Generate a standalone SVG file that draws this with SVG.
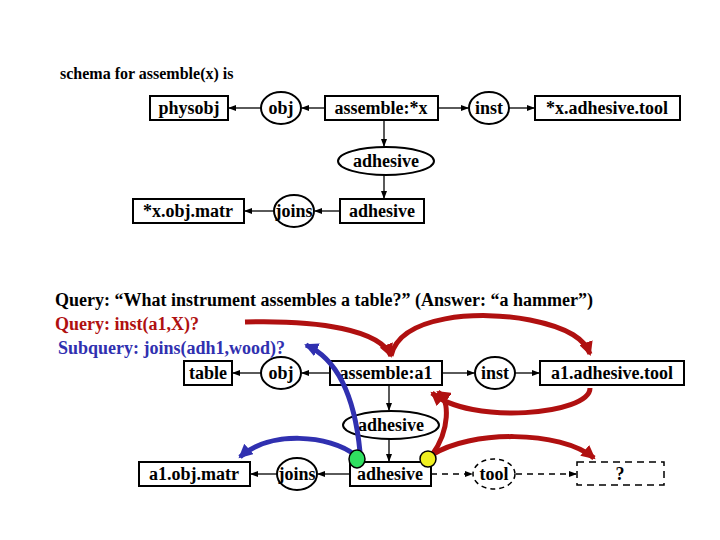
<svg xmlns="http://www.w3.org/2000/svg" width="720" height="540" viewBox="0 0 720 540">
<style>
text{font-family:"Liberation Serif","Times New Roman","DejaVu Serif",serif;font-weight:bold;font-size:18px;fill:#000}
.n{text-anchor:middle}
.b{fill:#fff;stroke:#000;stroke-width:2}
.l{stroke:#000;stroke-width:1.3;fill:none;marker-end:url(#a)}
.d{stroke:#000;stroke-width:1.5;fill:none;stroke-dasharray:6,5;marker-end:url(#a)}
.r{stroke:#b01010;stroke-width:5;fill:none;marker-end:url(#ra)}
.u{stroke:#3030b0;stroke-width:5;fill:none;marker-end:url(#ba)}
</style>
<defs>
<marker id="a" markerWidth="8" markerHeight="8" refX="7" refY="4" orient="auto" markerUnits="userSpaceOnUse"><path d="M0,1 L8,4 L0,7z"/></marker>
<marker id="ra" markerWidth="16" markerHeight="14" refX="12" refY="7" orient="auto" markerUnits="userSpaceOnUse"><path d="M0,0 L14,7 L0,14z" fill="#b01010"/></marker>
<marker id="ba" markerWidth="16" markerHeight="14" refX="12" refY="7" orient="auto" markerUnits="userSpaceOnUse"><path d="M0,0 L14,7 L0,14z" fill="#3030b0"/></marker>
</defs>
<rect width="720" height="540" fill="#fff"/>
<text x="60" y="79" style="font-size:16px">schema for assemble(x) is</text>
<g id="connectors">
<line class="l" x1="325" y1="108" x2="302" y2="108"/>
<line class="l" x1="261" y1="108" x2="229" y2="108"/>
<line class="l" x1="438" y1="108" x2="468" y2="108"/>
<line class="l" x1="509" y1="108" x2="534" y2="108"/>
<line class="l" x1="384" y1="120" x2="384" y2="146"/>
<line class="l" x1="384" y1="175" x2="384" y2="198"/>
<line class="l" x1="340" y1="211" x2="315" y2="211"/>
<line class="l" x1="274" y1="211" x2="245" y2="211"/>
<line class="l" x1="330" y1="373" x2="302" y2="373"/>
<line class="l" x1="261" y1="373" x2="233" y2="373"/>
<line class="l" x1="442" y1="373" x2="474" y2="373"/>
<line class="l" x1="515" y1="373" x2="539" y2="373"/>
<line class="l" x1="389" y1="385" x2="389" y2="410"/>
<line class="l" x1="389" y1="439" x2="389" y2="461"/>
<line class="l" x1="350" y1="474" x2="318" y2="474"/>
<line class="l" x1="277" y1="474" x2="251" y2="474"/>
<line class="d" x1="431" y1="474" x2="472" y2="474"/>
<line class="d" x1="516" y1="474" x2="576" y2="474"/>
</g>
<g id="physobj"><rect class="b" x="150" y="96" width="78" height="24"/><text class="n" x="189" y="114">physobj</text></g>
<g id="obj1"><ellipse class="b" cx="281" cy="108" rx="20" ry="16"/><text class="n" x="281" y="114">obj</text></g>
<g id="assemble1"><rect class="b" x="325" y="96" width="113" height="24"/><text class="n" x="381" y="114">assemble:*x</text></g>
<g id="inst1"><ellipse class="b" cx="489" cy="108" rx="20" ry="16"/><text class="n" x="489" y="114">inst</text></g>
<g id="tool1"><rect class="b" x="535" y="96" width="145" height="24"/><text class="n" x="607" y="114">*x.adhesive.tool</text></g>
<g id="adhE1"><ellipse class="b" cx="386" cy="161" rx="48" ry="14"/><text class="n" x="386" y="167">adhesive</text></g>
<g id="adhB1"><rect class="b" x="340" y="199" width="84" height="24"/><text class="n" x="382" y="217">adhesive</text></g>
<g id="joins1"><ellipse class="b" cx="294" cy="211" rx="20" ry="16"/><text class="n" x="294" y="217">joins</text></g>
<g id="matr1"><rect class="b" x="133" y="199" width="111" height="24"/><text class="n" x="188" y="217">*x.obj.matr</text></g>
<text x="55" y="306">Query: “What instrument assembles a table?” (Answer: “a hammer”)</text>
<text x="55" y="330" style="fill:#b01010">Query: inst(a1,X)?</text>
<text x="58" y="354" style="fill:#3030b0">Subquery: joins(adh1,wood)?</text>
<g id="table"><rect class="b" x="184" y="361" width="48" height="24"/><text class="n" x="208" y="379">table</text></g>
<g id="obj2"><ellipse class="b" cx="281" cy="373" rx="20" ry="16"/><text class="n" x="281" y="379">obj</text></g>
<g id="assemble2"><rect class="b" x="330" y="361" width="112" height="24"/><text class="n" x="386" y="379">assemble:a1</text></g>
<g id="inst2"><ellipse class="b" cx="495" cy="373" rx="20" ry="16"/><text class="n" x="495" y="379">inst</text></g>
<g id="tool2"><rect class="b" x="540" y="361" width="144" height="24"/><text class="n" x="612" y="379">a1.adhesive.tool</text></g>
<g id="adhE2"><ellipse class="b" cx="391" cy="425" rx="48" ry="14"/><text class="n" x="391" y="431">adhesive</text></g>
<g id="adhB2"><rect class="b" x="350" y="462" width="81" height="24"/><text class="n" x="390" y="480">adhesive</text></g>
<g id="joins2"><ellipse class="b" cx="297" cy="474" rx="20" ry="16"/><text class="n" x="297" y="480">joins</text></g>
<g id="matr2"><rect class="b" x="139" y="462" width="111" height="24"/><text class="n" x="194" y="480">a1.obj.matr</text></g>
<g id="toolq"><ellipse cx="494" cy="474" rx="21" ry="15" fill="#fff" stroke="#000" stroke-width="1.5" stroke-dasharray="5,4"/><text class="n" x="494" y="480">tool</text></g>
<g id="unknown"><rect x="577" y="462" width="87" height="23" fill="#fff" stroke="#000" stroke-width="1.5" stroke-dasharray="7,5"/><text class="n" x="620" y="480">?</text></g>
<g id="highlights">
<path class="r" d="M245,322 C320,320 380,330 391,356"/>
<path class="r" d="M391,356 C400,315 480,310 530,320 C570,328 585,340 590,354"/>
<path class="r" d="M590,388 C590,415 470,425 432,393"/>
<path class="r" d="M432,455 C450,430 450,400 438,392"/>
<path class="r" d="M432,455 C470,430 560,430 594,458"/>
<path class="u" d="M360,452 C355,400 340,360 306,345"/>
<path class="u" d="M355,455 C330,435 270,430 240,457"/>
<ellipse cx="357" cy="459" rx="8" ry="9" fill="#30e060" stroke="#000" stroke-width="1.5"/>
<ellipse cx="428" cy="459" rx="8" ry="8" fill="#f0f020" stroke="#000" stroke-width="1.5"/>
</g>
</svg>
